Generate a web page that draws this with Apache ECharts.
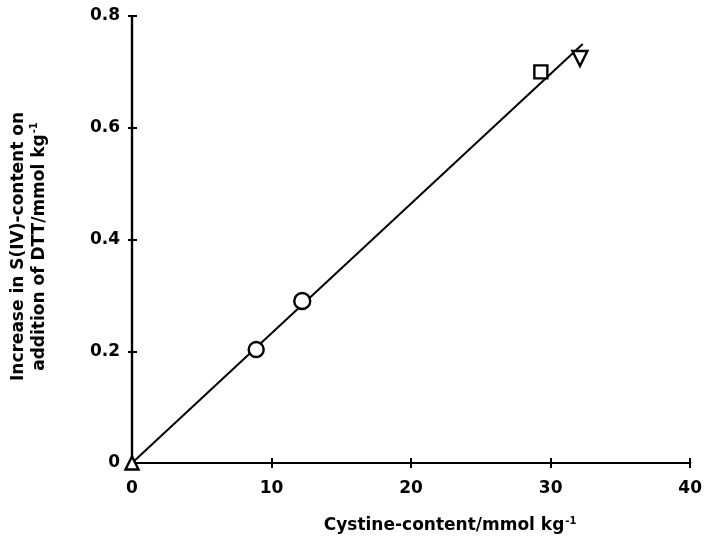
<!DOCTYPE html>
<html>
<head>
<meta charset="utf-8">
<script src="https://cdn.jsdelivr.net/npm/echarts@6/dist/echarts.min.js"></script>
<style>
  html, body { margin: 0; padding: 0; background: #fff; }
  #chart { width: 705px; height: 539px; }
</style>
</head>
<body>
<div id="chart"></div>
<script>
// Cystine content of each sample (mmol kg-1)
const cystine = [0, 8.9, 12.2, 29.3, 32.1];
// Increase in S(IV) content after DTT addition (mmol kg-1)
const sIVIncrease = [0, 0.203, 0.29, 0.70, 0.724];
// Fitted straight line end points
const fitX = [0, 32.3];
const fitY = [0, 0.75];
// Axis ticks
const xTicks = [0, 10, 20, 30, 40];
const yTicks = [0, 0.2, 0.4, 0.6, 0.8];

const FONT = 'DejaVu Sans';
const INK = '#000';

// marker per sample
const markers = [
  { symbol: 'triangle', rotate: 0, size: 13 },
  { symbol: 'circle', rotate: 0, size: 15 },
  { symbol: 'circle', rotate: 0, size: 16 },
  { symbol: 'rect', rotate: 0, size: 13 },
  { symbol: 'triangle', rotate: 180, size: 15 }
];

const chart = echarts.init(document.getElementById('chart'), null, { renderer: 'canvas' });

const axisLineStyle = { color: INK, width: 2.2 };
const supStyle = { fontFamily: FONT, fontWeight: 'bold', fontSize: 10, color: INK, verticalAlign: 'top', padding: [0, 0, 9, 1] };

const xBase = {
  type: 'value',
  min: xTicks[0],
  max: xTicks[xTicks.length - 1],
  interval: xTicks[1] - xTicks[0],
  splitLine: { show: false },
  axisLine: { show: true, onZero: false, lineStyle: axisLineStyle },
};
const yBase = {
  type: 'value',
  min: yTicks[0],
  max: yTicks[yTicks.length - 1],
  interval: yTicks[1] - yTicks[0],
  splitLine: { show: false },
  axisLine: { show: true, onZero: false, lineStyle: axisLineStyle },
};

const scatterSeries = cystine.map((x, i) => ({
  type: 'scatter',
  xAxisIndex: 0,
  yAxisIndex: 0,
  symbol: markers[i].symbol,
  symbolRotate: markers[i].rotate,
  symbolSize: markers[i].size,
  itemStyle: { color: '#fff', borderColor: INK, borderWidth: 2.4, opacity: 1 },
  z: 5,
  data: [[x, sIVIncrease[i]]]
}));

chart.setOption({
  animation: false,
  backgroundColor: '#fff',
  grid: { left: 128, right: 11, top: 16, bottom: 73, containLabel: false },
  xAxis: [
    Object.assign({}, xBase, {
      position: 'bottom',
      axisTick: { show: true, inside: false, length: 5, lineStyle: { color: INK, width: 2 } },
      axisLabel: {
        margin: 17,
        fontFamily: FONT, fontWeight: 'bold', fontSize: 17, color: INK,
        formatter: v => String(v)
      },
      name: 'Cystine-content/mmol kg{sup|-1}',
      nameLocation: 'middle',
      nameGap: 53,
      nameTextStyle: {
        fontFamily: FONT, fontWeight: 'bold', fontSize: 17, color: INK,
        padding: [0, 0, 0, 78],
        rich: { sup: supStyle }
      }
    }),
    Object.assign({}, xBase, {
      position: 'bottom',
      axisTick: { show: true, inside: true, length: 5, lineStyle: { color: INK, width: 2 } },
      axisLabel: { show: false }
    })
  ],
  yAxis: [
    Object.assign({}, yBase, {
      position: 'left',
      axisTick: { show: true, inside: false, length: 4, lineStyle: { color: INK, width: 2 } },
      axisLabel: {
        margin: 12,
        fontFamily: FONT, fontWeight: 'bold', fontSize: 17, color: INK,
        formatter: v => (v === 0 ? '0' : v.toFixed(1))
      },
      name: 'Increase in S(IV)-content on\naddition of DTT/mmol kg{sup|-1}',
      nameLocation: 'middle',
      nameRotate: 90,
      nameGap: 82,
      nameTextStyle: {
        fontFamily: FONT, fontWeight: 'bold', fontSize: 17, color: INK,
        lineHeight: 21,
        padding: [0, 14, 0, 0],
        rich: { sup: supStyle }
      }
    }),
    Object.assign({}, yBase, {
      position: 'left',
      axisTick: { show: true, inside: true, length: 5, lineStyle: { color: INK, width: 2 } },
      axisLabel: { show: false }
    })
  ],
  series: [
    {
      type: 'line',
      xAxisIndex: 0,
      yAxisIndex: 0,
      showSymbol: false,
      symbol: 'none',
      lineStyle: { color: INK, width: 2 },
      z: 3,
      data: fitX.map((x, i) => [x, fitY[i]])
    }
  ].concat(scatterSeries)
});
</script>
</body>
</html>
